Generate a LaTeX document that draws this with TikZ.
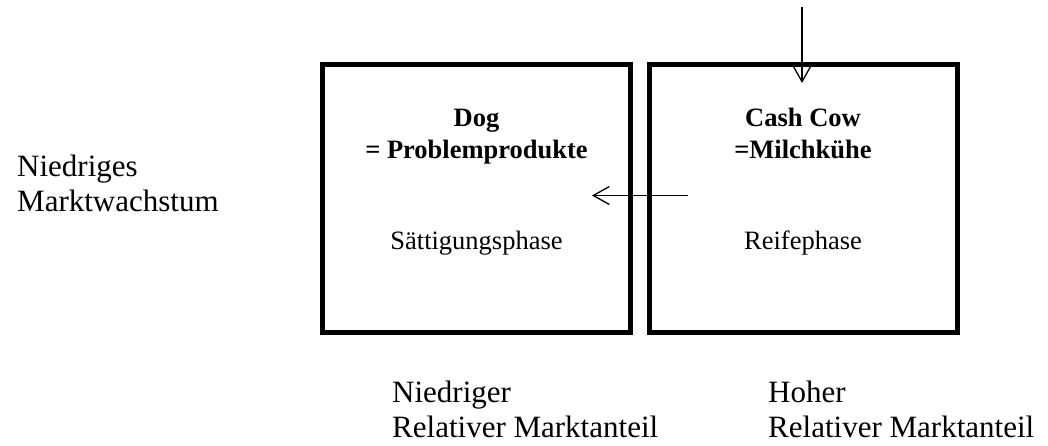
\documentclass[tikz,border=0pt]{standalone}
\usepackage{fontspec}
\setmainfont{Liberation Serif}
\usetikzlibrary{arrows.meta}
\begin{document}
\begin{tikzpicture}[x=1pt,y=-1pt,
  quad/.style={draw=black,line width=5pt,minimum width=308pt,minimum height=268pt,inner sep=0pt},
  axislbl/.style={inner sep=0pt,font=\fontsize{31}{35}\selectfont},
  title/.style={inner sep=0pt,font=\fontsize{26.5}{31}\selectfont\bfseries},
  phase/.style={inner sep=0pt,font=\fontsize{26.5}{31}\selectfont},
  flow/.style={line width=1.3pt,-{Straight Barb[length=16pt,width=18pt,line width=1.3pt]}}]
\useasboundingbox (0,0) rectangle (1048,445);

% the two quadrants
\node[quad] (dog) at (476.5,198.5) {};
\node[quad] (cow) at (803,198.5) {};

% quadrant texts
\node[title,anchor=base] (dogname) at (476.5,126.7) {Dog};
\node[title,anchor=base] (dogde) at (476.5,158.3) {= Problemprodukte};
\node[phase,anchor=base] (dogphase) at (476.5,249) {Sättigungsphase};
\node[title,anchor=base] (cowname) at (803,126.7) {Cash Cow};
\node[title,anchor=base] (cowde) at (803,158.3) {=Milchkühe};
\node[phase,anchor=base] (cowphase) at (803,249) {Reifephase};

% axis labels
\node[axislbl,anchor=base west] (growth1) at (17,176) {Niedriges};
\node[axislbl,anchor=base west] (growth2) at (17,211) {Marktwachstum};
\node[axislbl,anchor=base west] (low1) at (392,402) {Niedriger};
\node[axislbl,anchor=base west] (low2) at (392,437) {Relativer Marktanteil};
\node[axislbl,anchor=base west] (high1) at (768,402) {Hoher};
\node[axislbl,anchor=base west] (high2) at (768,437) {Relativer Marktanteil};

% movement arrows
\coordinate (entry) at (802,7);
\coordinate (entryend) at (802,83);
\coordinate (shiftstart) at (688,195.5);
\coordinate (shiftend) at (592,195.5);
\draw[flow] (entry) -- (entryend);
\draw[flow] (shiftstart) -- (shiftend);
\end{tikzpicture}
\end{document}
